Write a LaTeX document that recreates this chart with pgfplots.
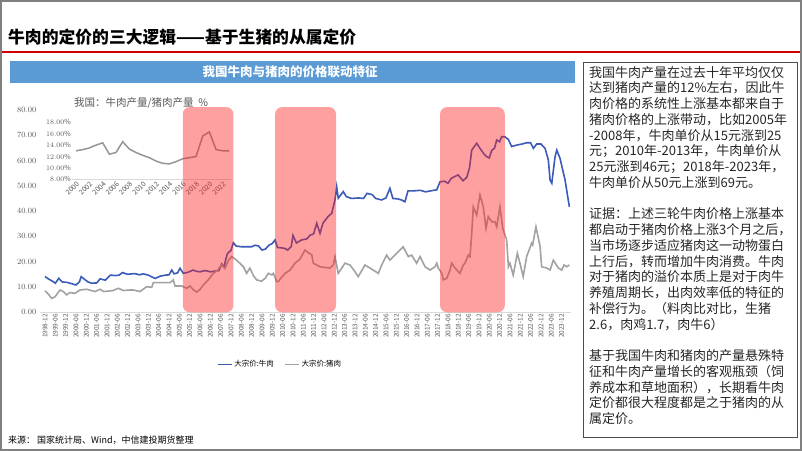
\documentclass[border=0pt]{standalone}
\usepackage{pgfplots}
\pgfplotsset{compat=1.18}
\usepackage{fontspec}
\setmainfont{Noto Sans CJK SC}
\definecolor{beef}{RGB}{58,92,184}
\definecolor{pork}{RGB}{162,162,162}
\definecolor{hdr}{RGB}{91,155,213}
\definecolor{ticklab}{RGB}{89,89,89}
\definecolor{pinkred}{RGB}{255,30,30}
\definecolor{insetline}{RGB}{150,150,150}

\pgfplotstableread{
m v
0 14.1
2 13.2
3 12.8
5 12.0
6 11.5
8 13.4
10 12.0
13 11.8
16 11.2
18 10.8
20 12.0
21 14.1
23 13.0
25 12.0
27 11.5
30 11.6
32 13.2
35 12.7
38 14.7
41 14.5
43 14.7
45 15.7
48 15.0
52 15.3
55 14.8
57 15.2
60 14.7
62 14.0
64 13.4
67 14.3
70 14.7
72 14.8
73.6 16.7
75 15.2
77 15.6
78.4 17.4
80.3 15.4
83 15.8
86 16.7
88 16.2
90 16.0
93 16.5
96 16.0
99 16.3
101 16.5
102.6 19.1
104 17.9
105 21.0
106 23.3
107 23.9
108 24.5
109.4 27.5
111 26.2
114 25.9
117 25.9
120 25.9
122 26.5
124 26.2
126 24.6
128 25.0
130 26.5
132 27.2
133.6 28.6
135 25.6
137 25.5
139 25.3
141 24.6
143 26.0
144 30.4
146 27.4
149 28.6
152 29.0
154 30.5
156 31.0
157.8 35.2
159.7 31.2
161.4 35.2
164.3 37.8
166.5 39.1
168.4 44.4
169.4 49.6
170.3 45.1
173.2 47.7
175 45.7
178 45.0
182 45.2
185 45.0
187 47.0
190 46.5
192 45.0
195.5 44.4
198 45.2
200.3 49.0
202 45.0
205 44.8
207 44.4
209 43.7
210.8 48.0
214 48.0
218 48.2
221 47.6
224 48.0
227.5 48.4
229.4 51.6
232 51.8
234 51.0
236 53.0
239.9 54.3
242.7 52.0
244.9 53.3
246.5 57.0
247.8 64.1
250.7 66.8
252.6 64.8
255 62.5
256.5 61.5
258 61.0
259.4 64.0
261 64.8
262.3 68.1
264 67.4
265.2 69.4
267 69.4
269.1 68.3
271 65.5
274 66.1
277 66.5
279.7 67.0
282 67.0
283.6 64.8
285.5 66.5
288 66.5
290.4 64.8
292.3 60.2
293.3 52.3
294.3 51.0
296.2 61.5
297.2 64.1
299.1 60.8
302 52.3
304.5 41.7
}\beeftable

\pgfplotstableread{
m v
0 8.5
1.9 7.2
3.9 5.5
5.8 6.1
8.7 8.8
10.6 8.2
12.6 6.9
14.5 7.8
17.4 7.5
20.3 8.8
24.2 9.1
27 8.6
29 8.2
32 9.1
33.9 8.2
37 8.4
39.5 8.6
42.6 9.5
45.5 8.6
49 8.8
51.3 8.8
55.2 8.2
59 10.1
62 9.9
62.9 11.7
68 11.7
72.6 11.7
74.5 12.8
75.5 10.4
79.4 10.4
82.3 9.5
84.2 10.4
86 9.0
88.1 8.0
90 9.0
91.9 10.8
94.8 12.8
97.7 15.4
100 16.5
102.6 18.7
104.5 17.3
106.5 20.5
108.4 22.0
111.3 20.6
113 19.5
115.2 18.0
117.1 15.4
119 17.5
121 14.5
122.9 12.8
125.8 12.3
128 13.5
129.7 15.4
131.7 14.8
132.6 15.4
134.6 12.1
135.5 12.1
137 13.5
139.4 15.4
142.3 16.7
145.2 19.4
148 21.0
151 24.6
153 23.5
154.9 22.7
155.8 19.4
159.7 18.0
162 17.8
165.5 17.5
167.4 18.7
168.4 22.0
170.3 15.4
174.2 19.4
177.1 18.7
179.5 16.5
181.9 14.1
185.8 18.7
188.7 17.5
191 16.5
193.6 15.4
195.5 18.7
198.4 22.6
200.3 20.6
204.2 23.3
206 24.5
208 25.9
211 22.0
212.9 22.6
215.8 19.4
217.8 22.0
220.7 18.0
223.6 16.7
226.5 18.0
227.5 19.4
228.4 17.5
230.4 15.4
231.3 12.8
233.3 13.4
235.2 16.7
236.2 19.4
238.1 17.5
241 15.4
242.9 18.7
243.9 19.4
245.8 22.6
246.8 22.0
247.8 31.2
248.7 41.7
250.7 38.4
252.6 46.4
254.5 41.7
256.1 33.2
257.4 37.8
259.4 35.8
261.3 35.8
262.3 33.8
264.2 41.7
265.8 33.2
268.1 28.6
269.1 18.0
270 19.4
271.9 14.7
274.3 23.3
275.8 19.4
277.7 14.1
279.7 22.0
282.6 27.3
283.2 26.6
285.1 33.8
287.5 26.0
288.4 18.0
291.3 17.5
293.3 16.7
295.2 20.6
298.1 17.5
300.1 16.7
301.4 18.7
302.9 18.0
304.5 18.7
}\porktable

\pgfplotstableread{
yr r
2000 13.0
2001 13.2
2002 13.5
2003 14.0
2004 14.4
2005 12.4
2006 12.7
2007 14.6
2008 13.3
2009 12.7
2010 12.2
2011 11.8
2012 11.2
2013 10.8
2014 10.7
2015 11.1
2016 11.6
2017 11.8
2018 12.0
2019 15.6
2020 16.3
2021 13.2
2022 13.0
2023 13.0
}\ratiotable

\begin{document}
\begin{tikzpicture}[x=1bp,y=1bp]
\useasboundingbox (0,0) rectangle (802,451);
\fill[white] (0,0) rectangle (802,451);

% title
\node[anchor=west, inner sep=0, font=\fontsize{16.8bp}{18bp}\selectfont\bfseries] at (8,451-37) {牛肉的定价的三大逻辑——基于生猪的从属定价};
\draw[color={rgb,255:red,204;green,0;blue,0}, line width=1.2bp] (0,451-52) -- (802,451-52);

% header bar
\fill[hdr] (10,451-83) rectangle (575,451-61);
\node[text=white, font=\fontsize{12.5bp}{14bp}\selectfont\bfseries, inner sep=0] at (290,451-72) {我国牛肉与猪肉的价格联动特征};

% inset chart
\node[text=ticklab, font=\fontsize{10.5bp}{12bp}\selectfont, inner sep=0] at (141,451-103) {我国：牛肉产量/猪肉产量\ \ \%};
\begin{axis}[
  at={(72bp,271.7bp)}, anchor=south west,
  x=6.67bp, y=5.7bp,
  xmin=1999.4, xmax=2023.2, ymin=8, ymax=18,
  axis x line*=bottom, axis y line*=left,
  x axis line style={draw={rgb,255:red,217;green,217;blue,217}, line width=0.8bp},
  y axis line style={draw=none},
  major tick length=0pt,
  ytick={8,10,12,14,16,18},
  yticklabel={\pgfmathprintnumber[fixed,fixed zerofill,precision=2]{\tick}\%},
  yticklabel style={font=\fontsize{7bp}{8bp}\selectfont, text=ticklab, inner sep=1bp},
  xtick={2000,2002,...,2022},
  xticklabels={2000,2002,2004,2006,2008,2010,2012,2014,2016,2018,2020,2022},
  xticklabel style={font=\fontsize{7bp}{8bp}\selectfont, text=ticklab, rotate=45, anchor=north east, inner sep=1bp},
  clip=false,
]
\addplot[insetline, line width=1.5bp, no marks] table[x=yr, y=r] {\ratiotable};
\end{axis}

% main chart
\begin{axis}[
  at={(39.83bp,138.7bp)}, anchor=south west,
  x=1.722bp, y=2.53bp,
  xmin=-3, xmax=305.5, ymin=0, ymax=82,
  axis x line*=bottom, axis y line*=left,
  x axis line style={draw={rgb,255:red,217;green,217;blue,217}, line width=0.8bp},
  y axis line style={draw=none},
  major tick length=0pt,
  ytick={0,10,...,80},
  yticklabel style={/pgf/number format/.cd, fixed, fixed zerofill, precision=2, /tikz/.cd, font=\fontsize{8bp}{9bp}\selectfont, text=ticklab},
  xtick={0,6,...,300},
  xticklabels={1998-12,1999-06,1999-12,2000-06,2000-12,2001-06,2001-12,2002-06,2002-12,2003-06,2003-12,2004-06,2004-12,2005-06,2005-12,2006-06,2006-12,2007-06,2007-12,2008-06,2008-12,2009-06,2009-12,2010-06,2010-12,2011-06,2011-12,2012-06,2012-12,2013-06,2013-12,2014-06,2014-12,2015-06,2015-12,2016-06,2016-12,2017-06,2017-12,2018-06,2018-12,2019-06,2019-12,2020-06,2020-12,2021-06,2021-12,2022-06,2022-12,2023-06,2023-12},
  xticklabel style={font=\fontsize{6.5bp}{7bp}\selectfont, text=ticklab, rotate=90, anchor=east, inner sep=1.5bp},
  legend columns=2,
  legend style={at={(0.452,-0.2507)}, anchor=center, draw=none, fill=none, font=\fontsize{7.5bp}{8bp}\selectfont, /tikz/every even column/.append style={column sep=8bp}},
  legend image code/.code={\draw[#1] (0bp,0bp) -- (14bp,0bp);},
  clip=false,
]
\addplot[beef, line width=1.6bp, no marks] table[x=m, y=v] {\beeftable};
\addlegendentry{大宗价:牛肉}
\addplot[pork, line width=1.6bp, no marks] table[x=m, y=v] {\porktable};
\addlegendentry{大宗价:猪肉}
\fill[pinkred, fill opacity=0.42, rounded corners=7bp] (axis cs:80,0) rectangle (axis cs:109.4,81.1);
\fill[pinkred, fill opacity=0.42, rounded corners=7bp] (axis cs:133.6,0) rectangle (axis cs:169,81.1);
\fill[pinkred, fill opacity=0.42, rounded corners=7bp] (axis cs:229.4,0) rectangle (axis cs:267,81.1);
\end{axis}

% right text box
\draw[black!70, line width=0.8bp] (583,451-437) rectangle (797,451-62);
\node[anchor=north west, inner sep=0, align=left, text=black!85, font=\fontsize{13bp}{15.75bp}\selectfont] at (589,451-66) {%
我国牛肉产量在过去十年平均仅仅\\
达到猪肉产量的12\%左右，因此牛\\
肉价格的系统性上涨基本都来自于\\
猪肉价格的上涨带动，比如2005年\\
-2008年，牛肉单价从15元涨到25\\
元；2010年-2013年，牛肉单价从\\
25元涨到46元；2018年-2023年，\\
牛肉单价从50元上涨到69元。\\
\mbox{}\\
证据：上述三轮牛肉价格上涨基本\\
都启动于猪肉价格上涨3个月之后，\\
当市场逐步适应猪肉这一动物蛋白\\
上行后，转而增加牛肉消费。牛肉\\
对于猪肉的溢价本质上是对于肉牛\\
养殖周期长，出肉效率低的特征的\\
补偿行为。（料肉比对比，生猪\\
2.6，肉鸡1.7，肉牛6）\\
\mbox{}\\
基于我国牛肉和猪肉的产量悬殊特\\
征和牛肉产量增长的客观瓶颈（饲\\
养成本和草地面积），长期看牛肉\\
定价都很大程度都是之于猪肉的从\\
属定价。};

% source
\node[anchor=west, inner sep=0, font=\fontsize{9bp}{10bp}\selectfont] at (8,451-440) {来源：\ 国家统计局、Wind，中信建投期货整理};

% slide frame
\draw[gray, line width=2bp] (1,1) rectangle (801,450);
\end{tikzpicture}
\end{document}
